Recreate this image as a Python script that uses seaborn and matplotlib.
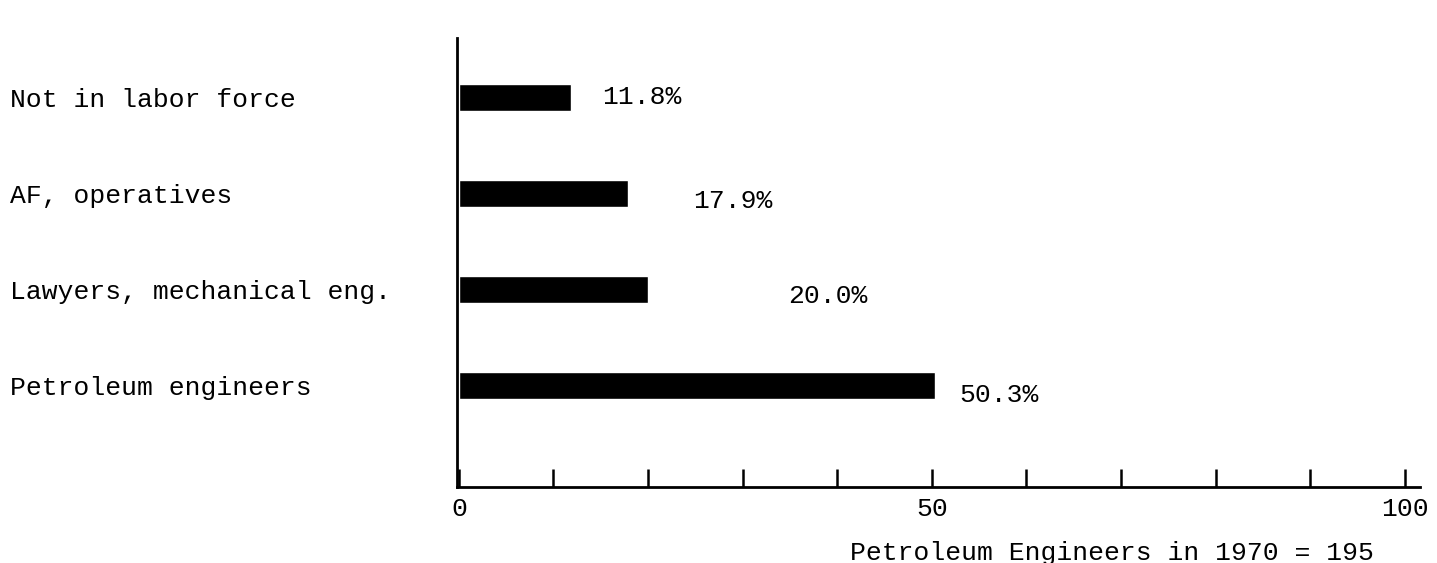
import matplotlib
matplotlib.use("Agg")
import matplotlib.pyplot as plt
import seaborn as sns

# data
categories = ["Not in labor force", "AF, operatives",
              "Lawyers, mechanical eng.", "Petroleum engineers"]
percents = [11.8, 17.9, 20.0, 50.3]
tick_values = list(range(0, 101, 10))
tick_labels = ["0", "", "", "", "", "50", "", "", "", "", "100"]
xlabel = "Petroleum Engineers in 1970 = 195"

# label gaps after bar end / vertical shift, in pixels (layout only)
label_gap = [32, 65, 140, 25]
label_dy = [0, -8, -7, -10]

sns.set_style("white")
plt.rcParams['font.family'] = ['Liberation Mono', 'DejaVu Sans Mono']
plt.rcParams['text.color'] = 'black'
plt.rcParams['axes.labelcolor'] = 'black'
plt.rcParams['xtick.color'] = 'black'
plt.rcParams['ytick.color'] = 'black'

fig = plt.figure(figsize=(14.37, 5.63), dpi=100)
ax = fig.add_axes([457 / 1437, 76 / 563, 963 / 1437, 449 / 563])

sns.barplot(x=percents, y=categories, orient="h", color="black",
            saturation=1, width=0.28, ax=ax)

ax.set_xlim(-0.2, 101.6)
ax.set_ylim(4.06, -0.615)

sns.despine(ax=ax)
for side in ["left", "bottom"]:
    ax.spines[side].set_color("black")
    ax.spines[side].set_linewidth(2)

ax.set_xticks(tick_values)
ax.set_xticklabels(tick_labels, fontsize=19)
ax.tick_params(axis="x", bottom=True, direction="in", length=13, width=1.8,
               color="black", pad=7)

ax.tick_params(axis="y", length=0, pad=447 * 0.72, labelsize=19)
for lab in ax.get_yticklabels():
    lab.set_horizontalalignment("left")

for i, v in enumerate(percents):
    ax.annotate(f"{v:.1f}%", xy=(v, i), xytext=(label_gap[i] * 0.72, label_dy[i] * 0.72),
                textcoords="offset points", ha="left", va="center", fontsize=19)

ax.set_xlabel(xlabel, fontsize=19, color="black")
ax.xaxis.set_label_coords(0.68, -0.148)
ax.xaxis.label.set_verticalalignment("center")
ax.set_ylabel("")

fig.savefig("out.png", dpi=100)
